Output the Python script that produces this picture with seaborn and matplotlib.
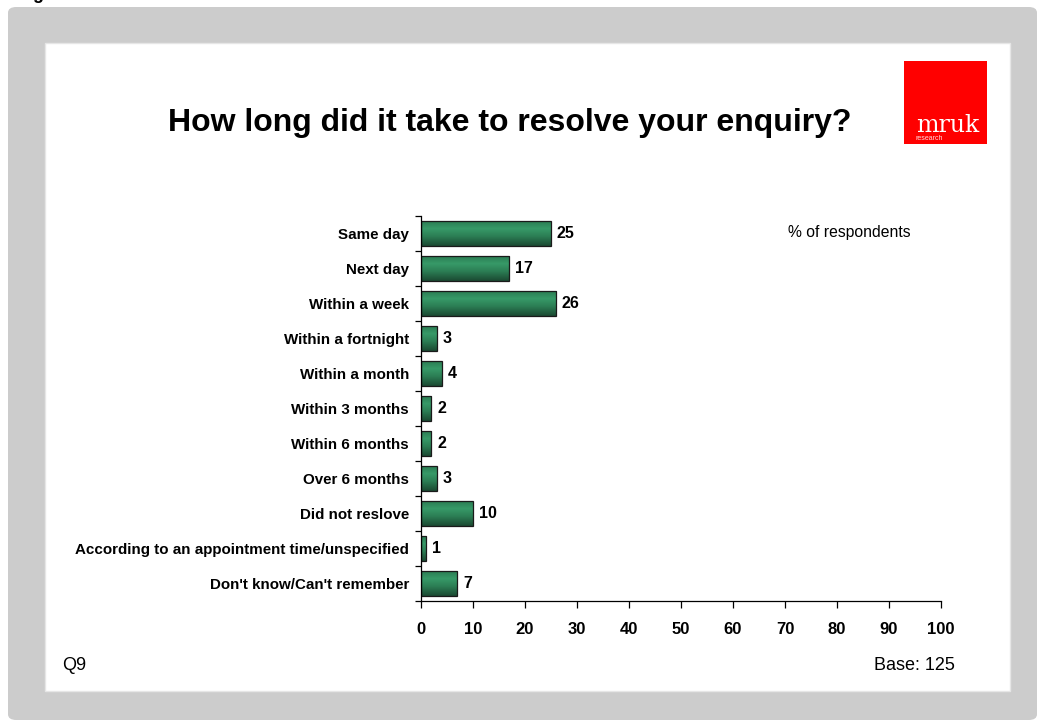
import numpy as np
import pandas as pd
import matplotlib
matplotlib.use("Agg")
import matplotlib.pyplot as plt
from matplotlib.patches import Rectangle, FancyBboxPatch
from matplotlib.colors import LinearSegmentedColormap
import seaborn as sns

# Survey responses: time taken to resolve the enquiry (% of respondents)
categories = [
    "Same day",
    "Next day",
    "Within a week",
    "Within a fortnight",
    "Within a month",
    "Within 3 months",
    "Within 6 months",
    "Over 6 months",
    "Did not reslove",
    "According to an appointment time/unspecified",
    "Don't know/Can't remember",
]
percentages = [25, 17, 26, 3, 4, 2, 2, 3, 10, 1, 7]
x_ticks = [0, 10, 20, 30, 40, 50, 60, 70, 80, 90, 100]

title = "How long did it take to resolve your enquiry?"
unit_note = "% of respondents"
question_ref = "Q9"
base_note = "Base: 125"

W, H = 1037, 720
sns.set_theme(style="white")
plt.rcParams["font.family"] = ["Liberation Sans", "DejaVu Sans"]
for key in ("text.color", "axes.labelcolor", "xtick.color", "ytick.color", "axes.edgecolor"):
    plt.rcParams[key] = "black"

fig = plt.figure(figsize=(W / 100, H / 100), dpi=100)
fig.patch.set_facecolor("white")


def fx(x):
    return x / W


def fy(y):
    return 1 - y / H


# Slide frame: grey surround with a white content panel
frame = FancyBboxPatch((fx(8), 0), 1 - fx(8), fy(7), boxstyle="round,pad=0,rounding_size=0.008",
                       transform=fig.transFigure, facecolor="#cccccc", edgecolor="none", zorder=0)
fig.patches.append(frame)
fig.patches.append(Rectangle((fx(45), fy(691)), fx(1010) - fx(45), fy(43) - fy(691),
                             transform=fig.transFigure, facecolor="white",
                             edgecolor="#e6e6e6", linewidth=1.0, zorder=1))
fig.text(fx(38), fy(-1), "g", fontsize=13, fontweight="bold", ha="center", va="baseline", zorder=2)

# Logo
fig.patches.append(Rectangle((fx(904), fy(144)), fx(987) - fx(904), fy(61) - fy(144),
                             transform=fig.transFigure, facecolor="#ff0000", edgecolor="none", zorder=2))
fig.text(fx(948), fy(125), "mruk", fontsize=17, color="white", family="DejaVu Serif",
         ha="center", va="center", zorder=3)
fig.text(fx(916), fy(138), "research", fontsize=5, color="#ffd6d6", ha="left", va="center", zorder=3)

# Title
fig.text(fx(510), fy(123), title, fontsize=23, fontweight="bold", ha="center", va="center", zorder=3)

# Chart area
ax = fig.add_axes([fx(421), fy(601), fx(941) - fx(421), fy(216) - fy(601)])
ax.set_facecolor("none")
ax.set_zorder(3)

df = pd.DataFrame({"category": categories, "pct": percentages})
sns.barplot(data=df, x="pct", y="category", orient="h", width=0.7, color="#2f8a5c",
            edgecolor="#1a1a1a", linewidth=0.9, ax=ax, saturation=1)

# Vertical green gradient on each bar, clipped to the bar shape
grad = LinearSegmentedColormap.from_list(
    "bar_grad", [(0.0, "#2b7d53"), (0.3, "#379a68"), (0.6, "#2c7f55"), (1.0, "#1b4a32")])
gimg = np.linspace(0, 1, 64).reshape(-1, 1)
for patch in ax.patches:
    x0, y0 = patch.get_x(), patch.get_y()
    w, h = patch.get_width(), patch.get_height()
    im = ax.imshow(gimg, cmap=grad, aspect="auto", extent=(x0, x0 + w, y0 + h, y0),
                   origin="upper", interpolation="bilinear", zorder=patch.get_zorder())
    im.set_clip_path(patch)
    patch.set_facecolor("none")
    patch.set_zorder(patch.get_zorder() + 0.1)

# Value labels at the end of each bar
for i, v in enumerate(percentages):
    ax.text(v + 1.1, i, f"{v}", fontsize=11.5, fontweight="bold", ha="left", va="center")

ax.set_xlim(0, 100)
ax.set_ylim(len(categories) - 0.5, -0.5)
ax.set_xticks(x_ticks)
ax.set_xticklabels([str(t) for t in x_ticks], fontsize=12, fontweight="bold")
ax.set_yticks(range(len(categories)))
ax.set_yticklabels(categories, fontsize=10.9, fontweight="bold")
ax.set_yticks(np.arange(-0.5, len(categories)), minor=True)
ax.tick_params(axis="y", which="major", left=True, length=0, pad=8.6)
ax.tick_params(axis="y", which="minor", left=True, length=4, width=0.9, color="black", direction="out")
ax.tick_params(axis="x", which="major", bottom=True, length=5, width=0.9, color="black",
               direction="out", pad=10)
ax.set_xlabel("")
ax.set_ylabel("")
for side in ("top", "right"):
    ax.spines[side].set_visible(False)
for side in ("left", "bottom"):
    ax.spines[side].set_color("black")
    ax.spines[side].set_linewidth(0.9)

fig.text(fx(788), fy(232), unit_note, fontsize=11.3, ha="left", va="center", zorder=3)
fig.text(fx(62), fy(665), question_ref, fontsize=13, ha="left", va="center", zorder=3)
fig.text(fx(955), fy(665), base_note, fontsize=13, ha="right", va="center", zorder=3)

fig.savefig("out.png", dpi=100)
